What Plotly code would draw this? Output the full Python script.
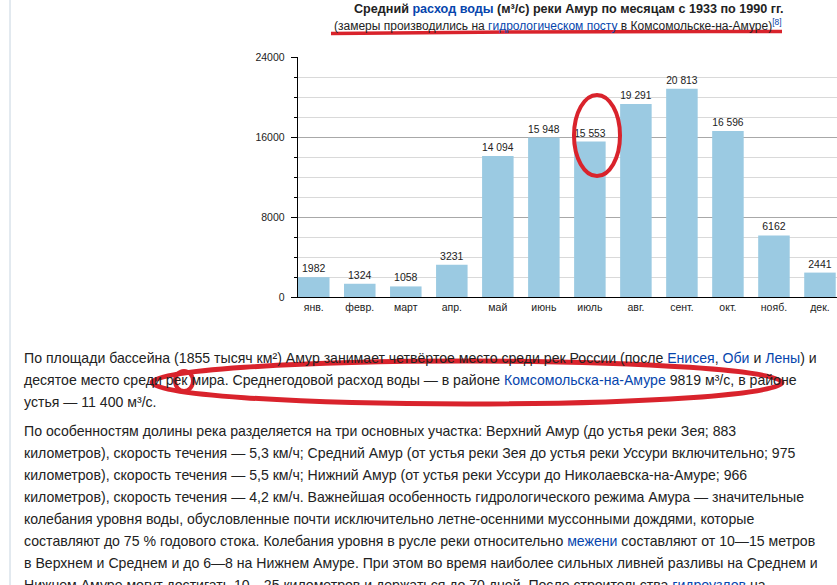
import plotly.graph_objects as go

# ---- data ----
months = ["янв.", "февр.", "март", "апр.", "май", "июнь", "июль", "авг.", "сент.", "окт.", "нояб.", "дек."]
flow = [1982, 1324, 1058, 3231, 14094, 15948, 15553, 19291, 20813, 16596, 6162, 2441]
y_ticks = [0, 8000, 16000, 24000]

LINK = "#0645ad"
def link(t):
    return f'<span style="color:{LINK}">{t}</span>'

title_main = ('<b>Средний ' + link("расход воды") + ' (м³/с) реки Амур '
              'по месяцам с 1933 по 1990 гг.</b>')
title_sub = ('(замеры производились на ' + link("гидрологическом посту") +
             ' в Комсомольске-на-Амуре)' + link("<sup>[8]</sup>"))

para1 = [
    "По площади бассейна (1855 тысяч км²) Амур занимает четвёртое место среди рек России (после "
    + link("Енисея") + ", " + link("Оби") + " и " + link("Лены") + ") и",
    "десятое место среди рек мира. Среднегодовой расход воды — в районе "
    + link("Комсомольска-на-Амуре") + " 9819 м³/с, в районе",
    "устья — 11 400 м³/с.",
]
para2 = [
    "По особенностям долины река разделяется на три основных участка: Верхний Амур (до устья реки Зея; 883",
    "километров), скорость течения — 5,3 км/ч; Средний Амур (от устья реки Зея до устья реки Уссури включительно; 975",
    "километров), скорость течения — 5,5 км/ч; Нижний Амур (от устья реки Уссури до Николаевска-на-Амуре; 966",
    "километров), скорость течения — 4,2 км/ч. Важнейшая особенность гидрологического режима Амура — значительные",
    "колебания уровня воды, обусловленные почти исключительно летне-осенними муссонными дождями, которые",
    "составляют до 75 % годового стока. Колебания уровня в русле реки относительно " + link("межени")
    + " составляют от 10—15 метров",
    "в Верхнем и Среднем и до 6—8 на Нижнем Амуре. При этом во время наиболее сильных ливней разливы на Среднем и",
    "Нижнем Амуре могут достигать 10—25 километров и держаться до 70 дней. После строительства "
    + link("гидроузлов") + " на",
]

# ---- geometry (window pixels) ----
W, H = 837, 585
L, R, T, B = 298, 837, 57, 297   # plot area in pixels

def px(x):
    return (x - L) / (R - L)

def py(y):
    return (B - y) / (B - T)

def fmt(v):
    return f"{v:,}".replace(",", " ") if v >= 10000 else str(v)

FONT = "Arial, Liberation Sans, sans-serif"

fig = go.Figure(
    go.Bar(
        x=months,
        y=flow,
        width=0.685,
        marker=dict(color="#9bcae2", line=dict(width=0)),
        text=[fmt(v) for v in flow],
        textposition="outside",
        textfont=dict(size=10.5, color="#222", family=FONT),
        cliponaxis=False,
        hoverinfo="skip",
    )
)

fig.update_layout(
    width=W,
    height=H,
    margin=dict(l=L, r=W - R, t=T, b=H - B),
    paper_bgcolor="white",
    plot_bgcolor="white",
    showlegend=False,
    font=dict(family=FONT, color="#222"),
)

fig.update_xaxes(
    type="category",
    range=[-0.3425, 11.37],
    showline=True,
    linecolor="black",
    linewidth=1.3,
    ticks="",
    showgrid=False,
    tickfont=dict(size=10.5, color="#222"),
    fixedrange=True,
)

fig.update_yaxes(
    range=[0, 24000],
    tickvals=y_ticks,
    ticktext=[str(v) for v in y_ticks],
    showline=True,
    linecolor="black",
    linewidth=1.3,
    ticks="outside",
    ticklen=6,
    tickcolor="black",
    tickwidth=1,
    ticklabelstandoff=4,
    showgrid=True,
    gridcolor="#a8a8a8",
    gridwidth=1,
    zeroline=False,
    tickfont=dict(size=10.5, color="#222"),
    minor=dict(dtick=2000, tick0=0, ticks="outside", ticklen=3, tickcolor="black",
               showgrid=True, gridcolor="#d9d9d9", gridwidth=1),
    fixedrange=True,
)

annotations = [
    dict(text=title_main, x=px(352), y=py(9), xanchor="left", yanchor="middle",
         font=dict(size=12.6, color="#222", family=FONT)),
    dict(text=title_sub, x=px(332), y=py(25), xanchor="left", yanchor="middle",
         font=dict(size=12, color="#222", family=FONT)),
]
for i, line in enumerate(para1):
    annotations.append(dict(text=line, x=px(22), y=py(358 + 22 * i), xanchor="left", yanchor="middle",
                            font=dict(size=14.1, color="#222", family=FONT)))
for i, line in enumerate(para2):
    annotations.append(dict(text=line, x=px(22), y=py(431 + 22 * i), xanchor="left", yanchor="middle",
                            font=dict(size=14.1, color="#222", family=FONT)))
for a in annotations:
    a.update(xref="paper", yref="paper", showarrow=False, align="left")
fig.update_layout(annotations=annotations)

RED = "#d9232c"
shapes = [
    # left content border
    dict(type="line", xref="paper", yref="paper", x0=px(10), x1=px(10), y0=py(0), y1=py(585),
         line=dict(color="#c6d4e0", width=1)),
    # red ellipse around July value
    dict(type="circle", xref="paper", yref="paper", x0=px(574), x1=px(620), y0=py(176), y1=py(95),
         line=dict(color=RED, width=4)),
    # big red ellipse around paragraph line
    dict(type="circle", xref="paper", yref="paper", x0=px(152), x1=px(782), y0=py(404), y1=py(361),
         line=dict(color=RED, width=5)),
    # small loop
    dict(type="circle", xref="paper", yref="paper", x0=px(175), x1=px(193), y0=py(391), y1=py(371),
         line=dict(color=RED, width=4)),
]
ul = f"M {px(331)} {py(33.5)} Q {px(560)} {py(31)} {px(782)} {py(31.5)}"
shapes.append(dict(type="path", xref="paper", yref="paper", path=ul, line=dict(color=RED, width=3.5)))
fig.update_layout(shapes=shapes)

fig.write_html("out.html", config={"displayModeBar": False, "staticPlot": True},
               post_script="document.body.style.margin='0';")
